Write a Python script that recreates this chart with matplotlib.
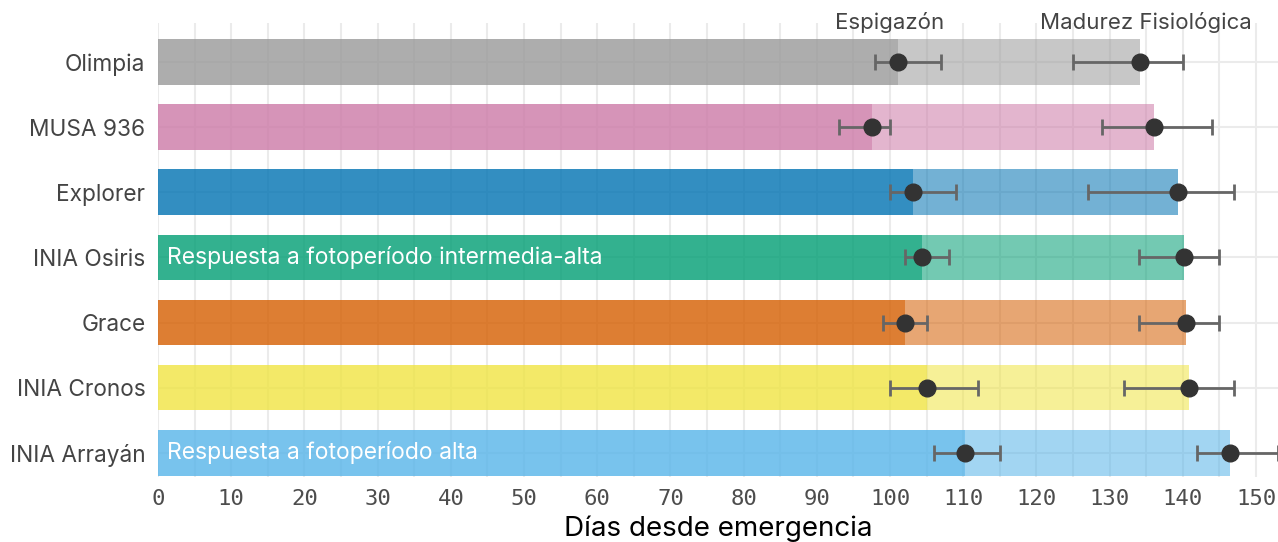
import matplotlib.pyplot as plt
from matplotlib.ticker import MultipleLocator

# datos (dias desde emergencia)
variedades = ["INIA Arrayán", "INIA Cronos", "Grace", "INIA Osiris",
              "Explorer", "MUSA 936", "Olimpia"]
colores = ["#56B4E9", "#F0E442", "#D55E00", "#009E73",
           "#0072B2", "#CC79A7", "#999999"]
espigazon = [110.2, 105.0, 102.0, 104.4, 103.1, 97.6, 101.1]
espigazon_min = [106, 100, 99, 102, 100, 93, 98]
espigazon_max = [115, 112, 105, 108, 109, 100, 107]
madurez = [146.5, 140.9, 140.4, 140.2, 139.4, 136.0, 134.2]
madurez_min = [142, 132, 134, 134, 127, 129, 125]
madurez_max = [153, 147, 145, 145, 147, 144, 140]
notas = {3: "Respuesta a fotoperíodo intermedia-alta",
         0: "Respuesta a fotoperíodo alta"}

plt.rcParams["font.family"] = ["Inter", "DejaVu Sans"]

fig = plt.figure(figsize=(12.78, 5.42), dpi=100)
ax = fig.add_axes([0.1236, 0.12, 0.8764, 0.838])

ys = list(range(len(variedades)))

# barras: hasta espigazon (fuerte) y de espigazon a madurez (suave)
ax.barh(ys, espigazon, height=0.7, color=colores, alpha=0.8, zorder=2)
ax.barh(ys, [m - e for m, e in zip(madurez, espigazon)], left=espigazon,
        height=0.7, color=colores, alpha=0.55, zorder=2)

err_kw = dict(fmt="o", color="#333333", ms=12, ecolor="#666666", elinewidth=2,
              capsize=6, capthick=2, zorder=4)
ax.errorbar(espigazon, ys,
            xerr=[[e - lo for e, lo in zip(espigazon, espigazon_min)],
                  [hi - e for e, hi in zip(espigazon, espigazon_max)]],
            **err_kw)
ax.errorbar(madurez, ys,
            xerr=[[m - lo for m, lo in zip(madurez, madurez_min)],
                  [hi - m for m, hi in zip(madurez, madurez_max)]],
            **err_kw)

for i, txt in notas.items():
    ax.text(1.2, i, txt, color="white", fontsize=16.5, va="center", ha="left",
            zorder=5)

ax.text(100, 6.6, "Espigazón", color="#444444", fontsize=16,
        ha="center", va="center", zorder=5)
ax.text(135, 6.6, "Madurez Fisiológica", color="#444444", fontsize=16,
        ha="center", va="center", zorder=5)

ax.set_xlim(0, 153)
ax.set_ylim(-0.37, 6.6)
ax.set_yticks(ys)
ax.set_yticklabels(variedades, fontsize=16.3, color="#444444")
ax.xaxis.set_major_locator(MultipleLocator(10))
ax.xaxis.set_minor_locator(MultipleLocator(5))
for lab in ax.get_xticklabels():
    lab.set_family("DejaVu Sans Mono")
ax.tick_params(axis="x", labelsize=16, labelcolor="#4d4d4d", pad=8.5)
ax.tick_params(axis="y", pad=9)
ax.tick_params(which="both", length=0)

ax.grid(True, axis="x", which="both", color="#ebebeb", lw=1.5, zorder=0)
ax.grid(True, axis="y", which="major", color="#ebebeb", lw=1.5, zorder=0)
ax.set_axisbelow(True)
for s in ax.spines.values():
    s.set_visible(False)

ax.set_xlabel("Días desde emergencia", fontsize=20, color="black", labelpad=5)

fig.savefig("out.png", dpi=100)
